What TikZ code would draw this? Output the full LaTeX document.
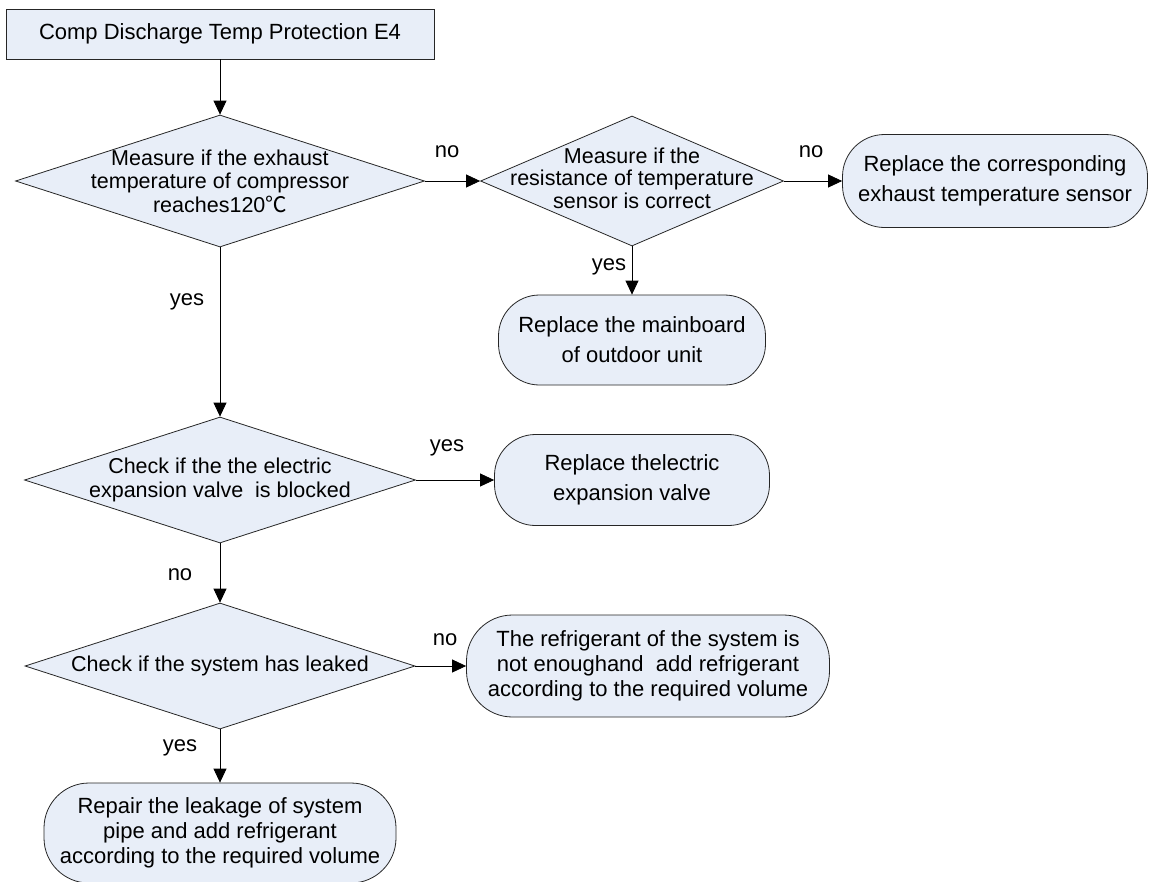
\documentclass[tikz,border=0pt]{standalone}
\usepackage{fontspec}
\setmainfont{Liberation Sans}
\newfontfamily\cjk{Noto Sans CJK SC}
\usetikzlibrary{shapes.geometric,arrows.meta}
\definecolor{fillc}{RGB}{232,238,248}
\begin{document}
\begin{tikzpicture}[x=1pt,y=-1pt,
  every node/.style={font=\fontsize{22}{23}\selectfont, text=black},
  box/.style={draw=black!85, fill=fillc, line width=0.8pt, inner sep=0pt},
  dia/.style={box, diamond},
  txt/.style={align=center, inner sep=0pt, font=\fontsize{21.5}{23.5}\selectfont},
  term/.style={box, rectangle, align=center, font=\fontsize{22}{25}\selectfont},
  termtwo/.style={term, font=\fontsize{22}{30}\selectfont},
  lbl/.style={inner sep=0pt},
  arr/.style={draw=black, line width=0.8pt, -{Triangle[length=14pt,width=13pt]}}
]
\clip (0,0) rectangle (1150,881);
\fill[white] (0,0) rectangle (1150,881);

\node[box, minimum width=428, minimum height=50] (title) at (220,34) {Comp Discharge Temp Protection E4};

\node[dia, minimum width=409, minimum height=132] (d1) at (220,181) {};
\node[txt] (d1t) at (220,181) {Measure if the exhaust\\temperature of compressor\\reaches120{\cjk ℃}};

\node[dia, minimum width=303, minimum height=130] (d2) at (632,181) {};
\node[txt, font=\fontsize{21.5}{22.5}\selectfont] (d2t) at (632,178) {Measure if the\\resistance of temperature\\sensor is correct};

\node[termtwo, minimum width=305, minimum height=93, rounded corners=42pt] (t1) at (995,181) {Replace the corresponding\\exhaust temperature sensor};

\node[termtwo, minimum width=267, minimum height=90, rounded corners=41pt] (t2) at (632,340) {Replace the mainboard\\of outdoor unit};

\node[dia, minimum width=391, minimum height=126] (d3) at (220,480) {};
\node[txt] (d3t) at (220,480) {Check if the the electric\\expansion valve\ \ is blocked};

\node[termtwo, minimum width=275, minimum height=91, rounded corners=41pt] (t3) at (632,480) {Replace thelectric\\expansion valve};

\node[dia, minimum width=390, minimum height=126] (d4) at (220,666) {};
\node[txt] (d4t) at (220,666) {Check if the system has leaked};

\node[term, minimum width=363, minimum height=102, rounded corners=46pt] (t4) at (648,666) {The refrigerant of the system is\\not enoughand\ \ add refrigerant\\according to the required volume};

\node[term, minimum width=352, minimum height=100, rounded corners=45pt] (t5) at (220,833) {Repair the leakage of system\\pipe and add refrigerant\\according to the required volume};

\draw[arr] (title.south) -- (d1.north);
\draw[arr] (d1.east) -- (d2.west);
\draw[arr] (d2.east) -- (t1.west);
\draw[arr] (d2.south) -- (t2.north);
\draw[arr] (d1.south) -- (d3.north);
\draw[arr] (d3.east) -- (t3.west);
\draw[arr] (d3.south) -- (d4.north);
\draw[arr] (d4.east) -- (t4.west);
\draw[arr] (d4.south) -- (t5.north);

\node[lbl] (l1) at (447,152) {no};
\node[lbl] (l2) at (811,152) {no};
\node[lbl] (l3) at (609,267) {yes};
\node[lbl] (l4) at (187,302) {yes};
\node[lbl] (l5) at (447,448) {yes};
\node[lbl] (l6) at (180,575) {no};
\node[lbl] (l7) at (445,640) {no};
\node[lbl] (l8) at (180,748) {yes};
\end{tikzpicture}
\end{document}
